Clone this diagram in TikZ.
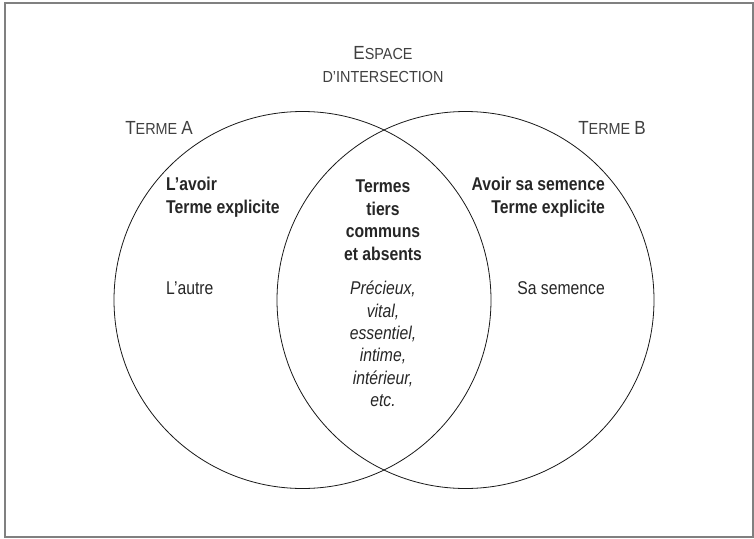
\documentclass[tikz,border=0pt]{standalone}
\usepackage{fontspec}
\setmainfont{Liberation Sans}[FakeStretch=0.85]
\newfontfamily\capsfont{Liberation Sans}[FakeStretch=0.9]
\usepackage{tikz}
\usetikzlibrary{positioning}

\newcommand{\initcap}[1]{{\fontsize{19}{23}\selectfont #1}}
\newcommand{\smallcap}[1]{{\fontsize{16}{23}\selectfont #1}}

\begin{document}
\begin{tikzpicture}[x=1pt,y=-1pt,
  txt/.style={inner sep=0pt,text=black!85,font=\fontsize{18.5}{22.5}\selectfont},
  capslabel/.style={inner sep=0pt,text=black!75,font=\capsfont\fontsize{16}{23}\selectfont},
  ring/.style={draw=black!90,line width=0.8pt}]
\useasboundingbox (0,0) rectangle (754,538);
\draw[black!50,line width=1.4pt] (5,3) rectangle (753,537);
% the two terms
\draw[ring] (302.5,300) circle[radius=188.5pt];
\draw[ring] (465.5,300) circle[radius=188.5pt];
\node[capslabel,align=center] (espace) at (383,65)
  {\initcap{E}\smallcap{SPACE}\\\smallcap{D’INTERSECTION}};
\node[capslabel] (termeA) at (159,128) {\initcap{T}\smallcap{ERME} \initcap{A}};
\node[capslabel] (termeB) at (612,128) {\initcap{T}\smallcap{ERME} \initcap{B}};
% inside the circles
\node[txt,font=\bfseries\fontsize{18.5}{22.5}\selectfont,align=left,anchor=west] (avoirA) at (166,197)
  {L’avoir\\Terme explicite};
\node[txt,font=\bfseries\fontsize{18.5}{22.5}\selectfont,align=center] (termes) at (383,220)
  {Termes\\tiers\\communs\\et absents};
\node[txt,font=\bfseries\fontsize{18.5}{22.5}\selectfont,align=right,anchor=east] (avoirB) at (605,197)
  {Avoir sa semence\\Terme explicite};
\node[txt,anchor=west] (autre) at (166,288) {L’autre};
\node[txt,anchor=east] (semence) at (605,288) {Sa semence};
\node[txt,font=\itshape\fontsize{18.5}{22.4}\selectfont,align=center] (liste) at (383,344)
  {Précieux,\\vital,\\essentiel,\\intime,\\intérieur,\\etc.};
\end{tikzpicture}
\end{document}
